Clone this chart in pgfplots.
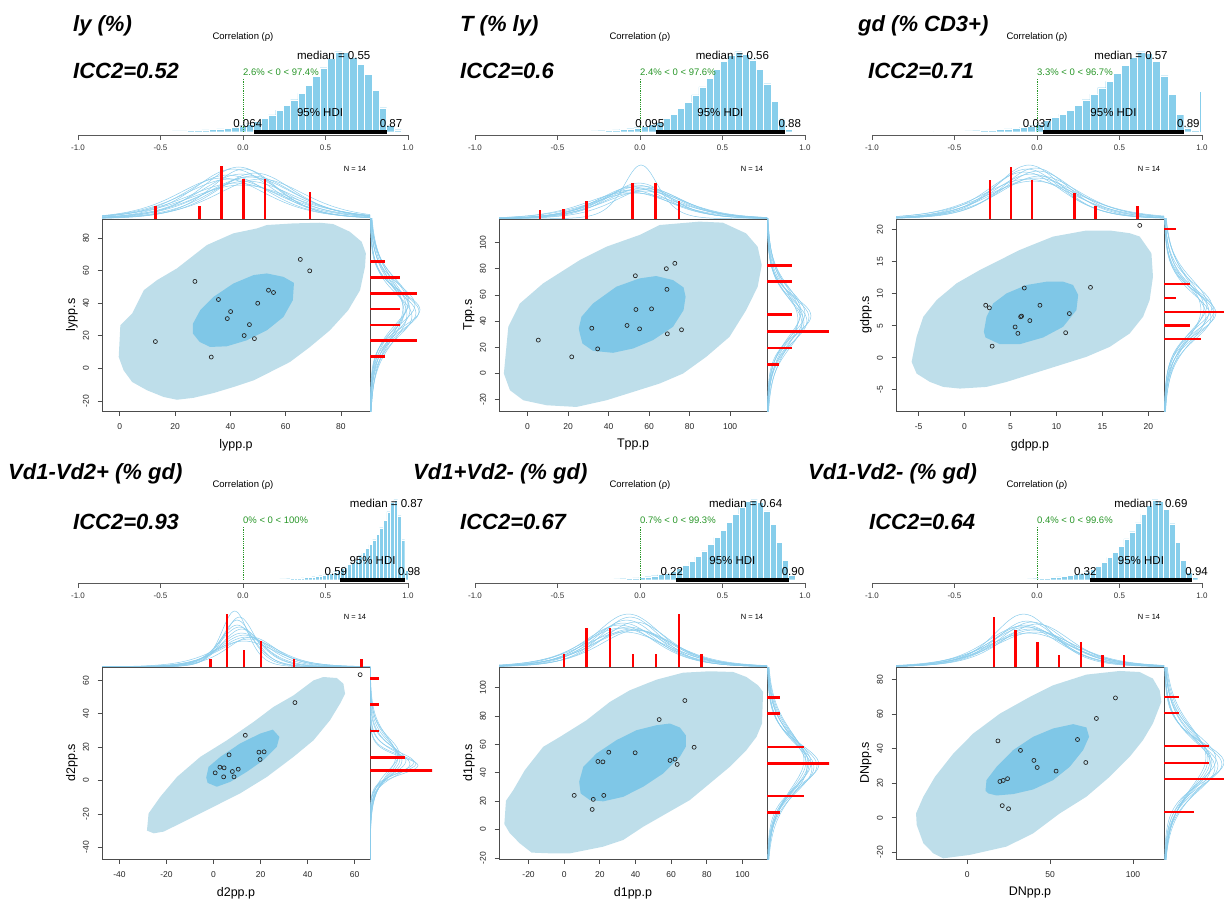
\documentclass[border=0pt]{standalone}
\usepackage{fontspec}
\setmainfont{Liberation Sans}
\usepackage{pgfplots}
\pgfplotsset{compat=1.18}
\usepackage{pgfplotstable}

\definecolor{sky}{RGB}{135,206,235}
\definecolor{curvec}{RGB}{140,205,236}
\definecolor{hdiout}{RGB}{190,222,234}
\definecolor{hdiin}{RGB}{127,199,231}
\definecolor{grn}{RGB}{40,150,40}

\newcommand{\fs}[1]{\fontsize{#1pt}{#1pt}\selectfont}

% normalised t(5) density shape used for the posterior predictive curves
\pgfplotstableread{
u f
-12 0.00004
-9 0.0002
-7 0.0008
-6 0.0018
-5 0.0046
-4.5 0.0078
-4 0.0135
-3.5 0.0244
-3.25 0.0332
-3 0.0456
-2.75 0.0631
-2.5 0.0878
-2.25 0.1227
-2 0.1715
-1.75 0.2385
-1.5 0.3280
-1.25 0.4423
-1 0.5787
-0.75 0.7263
-0.5 0.8638
-0.25 0.9634
0 1
0.25 0.9634
0.5 0.8638
0.75 0.7263
1 0.5787
1.25 0.4423
1.5 0.3280
1.75 0.2385
2 0.1715
2.25 0.1227
2.5 0.0878
2.75 0.0631
3 0.0456
3.25 0.0332
3.5 0.0244
4 0.0135
4.5 0.0078
5 0.0046
6 0.0018
7 0.0008
9 0.0002
12 0.00004
}\tshape

\pgfplotsset{
 /pgf/number format/assume math mode=true,
 histax/.style={scale only axis, width=330pt, height=132pt, anchor=south west, xmin=-1, xmax=1, ymin=-0.3, ymax=1.35, hide axis, clip=false},
 topax/.style={scale only axis, width=268pt, height=69pt, anchor=south west, ymin=0, ymax=69, hide axis, clip=true},
 rightax/.style={scale only axis, width=62pt, height=192pt, anchor=south west, xmin=0, xmax=62, hide axis, clip=true},
 scatax/.style={scale only axis, width=268pt, height=192pt, anchor=south west, axis on top,
   axis line style={black!70, line width=0.9pt}, tick align=outside, xtick pos=left, ytick pos=left,
   major tick length=4.5pt, tick style={black!70, line width=0.8pt},
   ticklabel style={font=\fs{8.5}, text=black!85},
   yticklabel style={rotate=90, anchor=south},
   xticklabel shift=5pt, yticklabel shift=5pt,
   label style={font=\fs{12.5}},
   xlabel style={at={(axis description cs:0.5,-0.177)}, anchor=center},
   ylabel style={at={(axis description cs:-0.112,0.5)}, anchor=center},
   clip=true},
 mcurve/.style={color=curvec, line width=0.5pt, smooth, no marks},
 histbar/.style={ybar interval, fill=sky, draw=white, line width=0.3pt},
 redv/.style={red, line width=2.6pt, ycomb, no marks},
 redh/.style={red, line width=2.6pt, xcomb, no marks},
 ptsty/.style={only marks, mark=o, mark size=2pt, mark options={black!85, line width=0.7pt}},
 hdiO/.style={fill=hdiout, draw=none, no marks},
 hdiI/.style={fill=hdiin, draw=none, no marks},
}

\newcommand{\tc}[3]{\addplot[mcurve] table[x expr=\thisrow{u}*#2+#1, y expr=\thisrow{f}*#3]{\tshape};}
\newcommand{\rc}[3]{\addplot[mcurve] table[y expr=\thisrow{u}*#2+#1, x expr=\thisrow{f}*#3]{\tshape};}

% #1 median, #2 green text, #3 HDI low, #4 HDI high, #5 low label shift, #6 HDI middle
\newcommand{\histdeco}[6]{%
 \draw[grn, densely dotted, line width=0.8pt] (axis cs:0,0) -- (axis cs:0,0.67);
 \draw[black, line width=3.6pt] (axis cs:#3,0) -- (axis cs:#4,0);
 \draw[black!65, line width=0.8pt] (axis cs:-1,-0.041) -- (axis cs:1,-0.041)
   (axis cs:-1,-0.041) -- (axis cs:-1,-0.104)
   (axis cs:-0.5,-0.041) -- (axis cs:-0.5,-0.104)
   (axis cs:0,-0.041) -- (axis cs:0,-0.104)
   (axis cs:0.5,-0.041) -- (axis cs:0.5,-0.104)
   (axis cs:1,-0.041) -- (axis cs:1,-0.104);
 \node[font=\fs{8}, text=black!80] at (axis cs:-1,-0.204) {-1.0};
 \node[font=\fs{8}, text=black!80] at (axis cs:-0.5,-0.204) {-0.5};
 \node[font=\fs{8}, text=black!80] at (axis cs:0,-0.204) {0.0};
 \node[font=\fs{8}, text=black!80] at (axis cs:0.5,-0.204) {0.5};
 \node[font=\fs{8}, text=black!80] at (axis cs:1,-0.204) {1.0};
 \node[font=\fs{9.5}] at (axis cs:0,1.187) {Correlation (ρ)};
 \node[font=\fs{11.5}] at (axis cs:#1,0.96) {median = #1};
 \node[font=\fs{9.5}, text=grn, anchor=west, inner sep=0pt] at (axis cs:0,0.745) {#2};
 \node[font=\fs{11.5}] at (axis cs:#6,0.234) {95\% HDI};
 \node[font=\fs{11.5}, xshift=#5] at (axis cs:#3,0.096) {#3};
 \node[font=\fs{11.5}, xshift=4.5pt] at (axis cs:#4,0.096) {#4};
}

\begin{document}
\begin{tikzpicture}
\useasboundingbox (0,0) rectangle (1224pt,-902pt);

% ================= titles =================
\node[anchor=base west, inner sep=0pt, font=\fs{22}\bfseries\itshape] at (73pt,-31.7pt) {ly (\%)};
\node[anchor=base west, inner sep=0pt, font=\fs{22}\bfseries\itshape] at (460pt,-31.7pt) {T (\% ly)};
\node[anchor=base west, inner sep=0pt, font=\fs{22}\bfseries\itshape] at (858pt,-31.7pt) {gd (\% CD3+)};
\node[anchor=base west, inner sep=0pt, font=\fs{22}\bfseries\itshape] at (8pt,-479pt) {Vd1-Vd2+ (\% gd)};
\node[anchor=base west, inner sep=0pt, font=\fs{22}\bfseries\itshape] at (413pt,-479pt) {Vd1+Vd2- (\% gd)};
\node[anchor=base west, inner sep=0pt, font=\fs{22}\bfseries\itshape] at (808pt,-479pt) {Vd1-Vd2- (\% gd)};
\node[anchor=base west, inner sep=0pt, font=\fs{22}\bfseries\itshape] at (73pt,-78pt) {ICC2=0.52};
\node[anchor=base west, inner sep=0pt, font=\fs{22}\bfseries\itshape] at (460pt,-78pt) {ICC2=0.6};
\node[anchor=base west, inner sep=0pt, font=\fs{22}\bfseries\itshape] at (868pt,-78pt) {ICC2=0.71};
\node[anchor=base west, inner sep=0pt, font=\fs{22}\bfseries\itshape] at (73pt,-529pt) {ICC2=0.93};
\node[anchor=base west, inner sep=0pt, font=\fs{22}\bfseries\itshape] at (460pt,-529pt) {ICC2=0.67};
\node[anchor=base west, inner sep=0pt, font=\fs{22}\bfseries\itshape] at (869pt,-529pt) {ICC2=0.64};
\foreach \nx/\ny in {355/169,752/169,1149/169,355/617,752/617,1149/617}
  \node[font=\fs{7.5}] at (\nx pt,-\ny pt) {N = 14};

% ================= PANEL 1 =================
\begin{axis}[histax, at={(78pt,-155.7pt)}]
\addplot[histbar] coordinates {(-0.563,0.003) (-0.518,0.005) (-0.473,0.007) (-0.428,0.009) (-0.384,0.011) (-0.339,0.014) (-0.294,0.018) (-0.249,0.022) (-0.205,0.028) (-0.160,0.036) (-0.115,0.045) (-0.070,0.058) (-0.026,0.075) (0.019,0.10) (0.064,0.13) (0.109,0.17) (0.154,0.21) (0.198,0.27) (0.243,0.33) (0.288,0.40) (0.333,0.48) (0.377,0.58) (0.422,0.69) (0.467,0.80) (0.512,0.92) (0.557,1.00) (0.601,0.99) (0.646,0.93) (0.691,0.84) (0.736,0.72) (0.781,0.52) (0.825,0.30) (0.870,0.08) (0.915,0.025) (0.960,0)};
\histdeco{0.55}{2.6\% < 0 < 97.4\%}{0.064}{0.87}{-5.8pt}{0.467}
\end{axis}
\begin{axis}[topax, at={(102pt,-219pt)}, xmin=-6.4, xmax=90.5]
\tc{44}{16}{45}\tc{41}{15}{50}\tc{47}{17}{42}\tc{43}{14}{52}\tc{46}{18}{38}\tc{39}{16}{44}\tc{49}{15}{46}\tc{42}{19}{36}\tc{45}{13}{50}\tc{40}{18}{40}\tc{48}{16}{43}\tc{44}{20}{34}\tc{37}{17}{41}\tc{51}{17}{40}
\addplot[redv] coordinates {(12.9,13.3) (28.8,13.3) (36.8,53.2) (44.7,40) (52.6,40) (68.8,26.6)};
\end{axis}
\begin{axis}[scatax, at={(102pt,-411pt)}, xmin=-6.4, xmax=90.5, ymin=-26.1, ymax=91.7, xtick={0,20,40,60,80}, ytick={-20,0,20,40,60,80}, xlabel={lypp.p}, ylabel={lypp.s}]
\addplot[hdiO] coordinates {(0.24,26.5) (-0.36,7.1) (1.4,-1.1) (4.5,-8.3) (9.9,-13.4) (15.9,-17.5) (20.7,-19.2) (26.7,-18.0) (33.9,-15.1) (41.1,-11.4) (48.4,-7.3) (54.4,-2.2) (61.6,4.0) (68.8,13.2) (76.0,23.4) (82.6,35.7) (86.9,48.0) (88.7,62.4) (89.0,70.6) (87.5,77.7) (83.2,83.9) (77.2,88.6) (72.4,89.4) (62.8,89.0) (53.2,88.0) (49.6,85.9) (41.1,82.9) (31.5,75.7) (20.7,61.4) (13.5,54.2) (8.7,48.0) (6.3,39.8) (4.5,33.7)} -- cycle;
\addplot[hdiI] coordinates {(26.5,21.4) (26.5,27.5) (29.1,35.7) (33.9,43.9) (41.1,52.1) (48.4,57.3) (53.2,58.3) (59.2,56.2) (63.0,52.5) (62.6,41.9) (59.2,31.6) (53.2,23.4) (46.0,17.3) (38.7,13.6) (32.7,13.2) (28.9,16.3)} -- cycle;
\addplot[ptsty] coordinates {(65.3,66.9) (68.7,59.9) (27.2,53.4) (53.8,48.0) (55.6,46.6) (35.7,42.3) (49.9,40.0) (40.1,34.9) (38.9,30.6) (46.9,26.9) (45.0,20.2) (48.7,18.3) (12.9,16.5) (33.1,7.0)};
\end{axis}
\begin{axis}[rightax, at={(370pt,-411pt)}, ymin=-26.1, ymax=91.7]
\rc{36}{16}{40}\rc{34}{14}{46}\rc{38}{18}{36}\rc{35}{13}{49}\rc{40}{17}{38}\rc{32}{15}{42}\rc{37}{20}{33}\rc{39}{14}{45}\rc{33}{18}{37}\rc{36}{12}{50}\rc{41}{16}{39}\rc{35}{19}{34}
\addplot[redh] coordinates {(15,65.5) (30,55.8) (46.7,46.0) (30,36.4) (30,26.7) (46.7,17.1) (15,7.3)};
\end{axis}

% ================= PANEL 2 =================
\begin{axis}[histax, at={(475pt,-155.7pt)}]
\addplot[histbar] coordinates {(-0.516,0.003) (-0.472,0.004) (-0.428,0.005) (-0.385,0.006) (-0.341,0.008) (-0.298,0.010) (-0.254,0.013) (-0.210,0.017) (-0.167,0.022) (-0.123,0.030) (-0.080,0.038) (-0.036,0.050) (0.008,0.065) (0.051,0.09) (0.095,0.12) (0.139,0.17) (0.182,0.22) (0.226,0.29) (0.269,0.37) (0.313,0.46) (0.357,0.56) (0.400,0.67) (0.444,0.78) (0.487,0.88) (0.531,0.96) (0.575,1.00) (0.618,0.97) (0.662,0.90) (0.706,0.78) (0.749,0.60) (0.793,0.38) (0.836,0.16) (0.880,0.03) (0.923,0)};
\histdeco{0.56}{2.4\% < 0 < 97.6\%}{0.095}{0.88}{-5.8pt}{0.4875}
\end{axis}
\begin{axis}[topax, at={(499pt,-219pt)}, xmin=-14.1, xmax=118.2]
\tc{55}{20}{30}\tc{52}{18}{32}\tc{58}{21}{28}\tc{54}{17}{34}\tc{50}{22}{27}\tc{57}{19}{31}\tc{53}{23}{26}\tc{60}{18}{30}\tc{56}{20}{33}\tc{51}{19}{29}\tc{56}{9}{54}\tc{55}{16}{36}
\addplot[redv] coordinates {(6.1,9) (17.6,9.7) (29.1,18) (51.7,35.7) (63.2,35.7) (74.7,18)};
\end{axis}
\begin{axis}[scatax, at={(499pt,-411pt)}, xmin=-14.1, xmax=118.2, ymin=-28.7, ymax=118.1, xtick={0,20,40,60,80,100}, ytick={-20,0,20,40,60,80,100}, xlabel={Tpp.p}, ylabel={Tpp.s}]
\addplot[hdiO] coordinates {(-10.3,22.9) (-11.7,-0.1) (-8.7,-12.8) (-2.1,-20.5) (9.4,-24.3) (24.1,-25.6) (38.9,-20.5) (52.1,-14.1) (65.2,-7.7) (76.7,-0.1) (88.2,12.7) (99.7,28.0) (107.9,48.4) (113.6,66.3) (115.6,82.9) (113.6,96.9) (107.9,107.1) (96.4,115.3) (84.9,116.1) (65.2,113.5) (55.3,105.9) (38.9,96.9) (25.8,86.7) (7.7,68.9) (-3.8,53.5) (-9.5,35.7)} -- cycle;
\addplot[hdiI] coordinates {(25.8,30.6) (27.1,22.9) (32.3,17.3) (42.2,15.8) (52.1,19.1) (61.9,25.5) (71.8,35.7) (77.0,48.4) (78.0,58.6) (77.0,65.8) (71.8,71.4) (63.5,74.5) (55.3,72.7) (43.8,66.3) (32.3,53.5) (26.6,43.3) (25.3,34.4)} -- cycle;
\addplot[ptsty] coordinates {(72.7,84.2) (68.5,80.1) (53.2,74.7) (68.8,64.3) (53.5,48.9) (61.2,49.4) (49.1,36.7) (31.7,34.6) (55.3,34.1) (76.0,33.4) (69.0,30.3) (34.6,18.8) (5.3,25.5) (21.8,12.7)};
\end{axis}
\begin{axis}[rightax, at={(767pt,-411pt)}, ymin=-28.7, ymax=118.1]
\rc{42}{20}{36}\rc{40}{18}{40}\rc{45}{22}{33}\rc{43}{17}{42}\rc{38}{21}{35}\rc{46}{19}{38}\rc{41}{24}{31}\rc{44}{16}{44}\rc{39}{19}{37}\rc{47}{21}{34}
\addplot[redh] coordinates {(24.7,82.6) (24.7,70.4) (24.7,44.9) (61.7,32.1) (24.7,19.6) (12.3,6.8)};
\end{axis}

% ================= PANEL 3 =================
\begin{axis}[histax, at={(872pt,-155.7pt)}]
\addplot[histbar] coordinates {(-0.626,0.003) (-0.579,0.004) (-0.531,0.005) (-0.484,0.007) (-0.437,0.009) (-0.389,0.012) (-0.342,0.016) (-0.295,0.021) (-0.247,0.027) (-0.200,0.035) (-0.153,0.045) (-0.105,0.058) (-0.058,0.075) (-0.010,0.10) (0.037,0.14) (0.084,0.18) (0.132,0.22) (0.179,0.27) (0.226,0.33) (0.274,0.40) (0.321,0.47) (0.368,0.55) (0.416,0.63) (0.463,0.73) (0.511,0.83) (0.558,0.93) (0.605,1.00) (0.653,0.98) (0.700,0.88) (0.747,0.70) (0.795,0.47) (0.842,0.22) (0.889,0.05) (0.937,0.015) (0.984,0)};
\addplot[sky, line width=0.7pt] coordinates {(0.99,0) (0.99,0.5)};
\histdeco{0.57}{3.3\% < 0 < 96.7\%}{0.037}{0.89}{-5.8pt}{0.4635}
\end{axis}
\begin{axis}[topax, at={(896pt,-219pt)}, xmin=-7.46, xmax=21.7]
\tc{7.3}{4.5}{45}\tc{6.8}{4.0}{50}\tc{7.8}{5.0}{41}\tc{7.0}{3.8}{54}\tc{8.2}{4.7}{43}\tc{6.5}{4.3}{47}\tc{7.5}{5.5}{38}\tc{8.0}{4.2}{48}\tc{6.9}{5.2}{40}\tc{7.7}{3.9}{51}
\addplot[redv] coordinates {(2.75,39) (5.04,52) (7.32,39) (11.96,26) (14.24,13) (18.8,13)};
\end{axis}
\begin{axis}[scatax, at={(896pt,-411pt)}, xmin=-7.46, xmax=21.7, ymin=-8.35, ymax=21.7, xtick={-5,0,5,10,15,20}, ytick={-5,0,5,10,15,20}, xlabel={gdpp.p}, ylabel={gdpp.s}]
\addplot[hdiO] coordinates {(-5.76,-0.66) (-5.22,-2.49) (-3.77,-3.8) (-2.32,-4.58) (-0.51,-4.84) (2.39,-4.58) (4.57,-3.8) (7.46,-2.49) (10.36,-1.18) (13.26,0.13) (15.8,1.69) (17.97,3.79) (19.42,6.4) (20.14,9.02) (20.5,12.68) (20.33,16.34) (19.06,18.95) (17.97,19.48) (15.8,19.9) (13.26,19.9) (9.64,18.95) (6.01,16.86) (3.84,15.29) (1.67,13.72) (-0.87,11.63) (-3.04,9.02) (-4.49,6.4) (-5.22,3.26)} -- cycle;
\addplot[hdiI] coordinates {(2.1,4.05) (2.28,3.16) (3.84,2.11) (6.01,2.11) (8.55,3.16) (10.72,4.83) (12.17,7.45) (12.36,9.8) (11.81,11.37) (10.72,11.89) (8.91,11.89) (6.74,11.37) (4.57,10.06) (3.12,8.49) (2.39,6.4)} -- cycle;
\addplot[ptsty] coordinates {(19.06,20.7) (13.7,11.0) (6.5,10.9) (2.3,8.2) (2.7,7.8) (8.2,8.2) (11.4,6.9) (6.1,6.4) (6.2,6.5) (7.1,5.8) (5.5,4.8) (5.8,3.8) (11.0,3.9) (3.0,1.8)};
\end{axis}
\begin{axis}[rightax, at={(1164pt,-411pt)}, ymin=-8.35, ymax=21.7]
\rc{7.2}{4.2}{45}\rc{6.8}{3.8}{50}\rc{7.8}{4.8}{40}\rc{7.0}{3.5}{52}\rc{8.3}{4.5}{43}\rc{6.3}{4.0}{47}\rc{7.5}{5.2}{37}\rc{8.0}{3.9}{48}\rc{6.6}{4.6}{42}\rc{7.4}{3.6}{50}
\addplot[redh] coordinates {(12.4,20.16) (25.7,11.53) (12.4,9.33) (62,7.13) (25.7,4.99) (37.3,2.9)};
\end{axis}

% ================= PANEL 4 =================
\begin{axis}[histax, at={(78pt,-603.7pt)}]
\addplot[histbar] coordinates {(-0.147,0.001) (-0.125,0.001) (-0.103,0.0015) (-0.082,0.0015) (-0.060,0.002) (-0.038,0.002) (-0.017,0.0025) (0.005,0.003) (0.027,0.003) (0.048,0.0035) (0.070,0.004) (0.092,0.0045) (0.113,0.005) (0.135,0.0055) (0.157,0.006) (0.178,0.007) (0.200,0.008) (0.222,0.009) (0.243,0.010) (0.265,0.012) (0.287,0.014) (0.308,0.016) (0.330,0.019) (0.352,0.022) (0.373,0.026) (0.395,0.031) (0.417,0.037) (0.438,0.043) (0.460,0.05) (0.482,0.06) (0.503,0.072) (0.525,0.085) (0.547,0.10) (0.568,0.12) (0.590,0.14) (0.612,0.16) (0.633,0.19) (0.655,0.22) (0.677,0.26) (0.698,0.30) (0.720,0.34) (0.742,0.39) (0.763,0.44) (0.785,0.50) (0.807,0.57) (0.828,0.65) (0.850,0.74) (0.872,0.85) (0.893,0.97) (0.915,1.00) (0.937,0.80) (0.958,0.50) (0.980,0.12) (1.0,0)};
\histdeco{0.87}{0\% < 0 < 100\%}{0.59}{0.98}{-4.5pt}{0.785}
\end{axis}
\begin{axis}[topax, at={(102pt,-667pt)}, xmin=-47.4, xmax=66.5]
\tc{12}{10}{34}\tc{10}{8}{42}\tc{14}{12}{30}\tc{11}{7}{50}\tc{13}{11}{32}\tc{9}{6}{56}\tc{15}{13}{28}\tc{12}{9}{38}\tc{10}{7}{47}\tc{16}{11}{30}\tc{13}{14}{26}\tc{11}{9}{40}
\addplot[redv] coordinates {(-1.2,8.3) (5.7,53.3) (13.0,17) (20.1,26) (34.2,8.3) (63.0,8.3)};
\end{axis}
\begin{axis}[scatax, at={(102pt,-859pt)}, xmin=-47.4, xmax=66.5, ymin=-47.0, ymax=68.0, xtick={-40,-20,0,20,40,60}, ytick={-40,-20,0,20,40,60}, xlabel={d2pp.p}, ylabel={d2pp.s}]
\addplot[hdiO] coordinates {(-28.3,-30.0) (-27.6,-19.7) (-22.6,-9.7) (-15.5,2.2) (-5.6,14.2) (5.7,24.1) (17.0,35.1) (25.5,44.1) (34.0,51.0) (42.5,60.0) (46.7,62.0) (52.4,61.4) (55.2,58.0) (55.9,52.0) (53.8,46.1) (49.5,36.1) (42.5,24.1) (34.0,14.2) (22.7,2.2) (11.3,-7.7) (0.0,-15.7) (-11.3,-23.7) (-21.2,-30.6) (-25.4,-31.6)} -- cycle;
\addplot[hdiI] coordinates {(-3.1,1.8) (-2.1,8.2) (2.9,14.2) (11.3,22.2) (19.8,28.1) (25.2,30.5) (28.0,26.1) (26.9,20.2) (21.2,12.2) (14.1,5.2) (7.1,-0.8) (1.4,-3.7) (-2.5,-1.4)} -- cycle;
\addplot[ptsty] coordinates {(62.3,63.4) (34.6,46.7) (13.5,27.1) (6.6,15.4) (19.3,17.0) (21.5,17.2) (19.8,12.6) (2.7,8.0) (4.5,7.6) (0.7,4.6) (8.0,5.4) (10.5,6.8) (4.3,2.2) (8.7,2.2)};
\end{axis}
\begin{axis}[rightax, at={(370pt,-859pt)}, ymin=-47.0, ymax=68.0]
\rc{12}{10}{32}\rc{10}{8}{40}\rc{14}{12}{28}\rc{9}{6}{48}\rc{13}{11}{30}\rc{11}{7}{44}\rc{15}{13}{26}\rc{12}{9}{36}\rc{10}{6}{46}\rc{16}{11}{29}
\addplot[redh] coordinates {(9.3,61.2) (9.3,45.7) (9.3,29.7) (35,13.8) (65,6.0)};
\end{axis}

% ================= PANEL 5 =================
\begin{axis}[histax, at={(475pt,-603.7pt)}]
\addplot[histbar] coordinates {(-0.611,0.001) (-0.573,0.001) (-0.536,0.0015) (-0.498,0.0015) (-0.460,0.002) (-0.422,0.002) (-0.385,0.0025) (-0.347,0.003) (-0.309,0.004) (-0.271,0.005) (-0.234,0.006) (-0.196,0.008) (-0.158,0.010) (-0.120,0.013) (-0.082,0.017) (-0.045,0.022) (-0.007,0.029) (0.031,0.038) (0.069,0.05) (0.107,0.065) (0.144,0.085) (0.182,0.11) (0.220,0.14) (0.258,0.18) (0.296,0.23) (0.333,0.29) (0.371,0.36) (0.409,0.44) (0.447,0.53) (0.485,0.62) (0.522,0.72) (0.560,0.82) (0.598,0.91) (0.636,0.98) (0.674,1.00) (0.711,0.97) (0.749,0.86) (0.787,0.69) (0.825,0.47) (0.863,0.24) (0.900,0.06) (0.938,0)};
\histdeco{0.64}{0.7\% < 0 < 99.3\%}{0.22}{0.90}{-4.5pt}{0.56}
\end{axis}
\begin{axis}[topax, at={(499pt,-667pt)}, xmin=-36.6, xmax=113.8]
\tc{36}{22}{40}\tc{33}{20}{44}\tc{39}{24}{37}\tc{35}{19}{47}\tc{38}{23}{38}\tc{31}{21}{42}\tc{40}{20}{45}\tc{34}{25}{35}\tc{37}{18}{50}\tc{32}{23}{39}\tc{36}{20}{53}\tc{41}{22}{37}
\addplot[redv] coordinates {(-0.2,12.7) (12.5,38.7) (25.6,38.7) (38.5,12.7) (51.4,12.7) (64.3,52.7) (77.2,12.7)};
\end{axis}
\begin{axis}[scatax, at={(499pt,-859pt)}, xmin=-36.6, xmax=113.8, ymin=-20.7, ymax=114.5, xtick={-20,0,20,40,60,80,100}, ytick={-20,0,20,40,60,80,100}, xlabel={d1pp.p}, ylabel={d1pp.s}]
\addplot[hdiO] coordinates {(-33.6,3.9) (-32.7,20.3) (-28.6,27.8) (-22.1,41.9) (-11.8,58.3) (-2.4,65.3) (12.5,77.0) (25.6,89.9) (36.8,98.1) (51.8,105.6) (66.7,110.5) (81.7,111.5) (94.8,111.0) (102.2,107.5) (108.8,101.6) (111.6,97.0) (111.0,74.7) (107.9,65.3) (102.2,55.9) (92.9,44.2) (81.7,32.5) (70.5,20.8) (57.4,11.4) (44.3,2.0) (33.1,-7.3) (21.9,-12.0) (3.2,-16.7) (-8.0,-16.7) (-18.3,-16.2) (-24.9,-9.7) (-30.5,-2.6)} -- cycle;
\addplot[hdiI] coordinates {(8.4,33.7) (9.2,25.5) (14.4,20.8) (21.9,19.9) (33.1,23.1) (44.3,30.2) (55.5,39.5) (64.9,51.3) (68.2,58.3) (68.2,66.5) (64.9,71.9) (59.3,74.7) (51.8,73.5) (40.6,70.0) (29.3,63.0) (18.1,53.6) (10.7,44.2)} -- cycle;
\addplot[ptsty] coordinates {(67.7,90.9) (53.3,77.5) (72.9,58.0) (25.0,54.5) (39.8,54.1) (18.9,48.0) (21.7,47.7) (59.4,48.7) (62.2,49.6) (63.4,45.9) (5.6,24.1) (16.3,21.3) (22.2,24.1) (15.7,14.2)};
\end{axis}
\begin{axis}[rightax, at={(767pt,-859pt)}, ymin=-20.7, ymax=114.5]
\rc{46}{20}{42}\rc{44}{18}{47}\rc{48}{22}{39}\rc{45}{17}{50}\rc{47}{21}{41}\rc{43}{19}{45}\rc{49}{23}{37}\rc{46}{16}{52}\rc{44}{22}{40}\rc{47}{19}{44}
\addplot[redh] coordinates {(12.7,93.2) (12.7,81.7) (37,58.3) (63.3,46.6) (37,23.6) (12.7,11.9)};
\end{axis}

% ================= PANEL 6 =================
\begin{axis}[histax, at={(872pt,-603.7pt)}]
\addplot[histbar] coordinates {(-0.334,0.0015) (-0.299,0.002) (-0.265,0.0025) (-0.230,0.003) (-0.196,0.004) (-0.162,0.005) (-0.127,0.006) (-0.093,0.008) (-0.058,0.010) (-0.024,0.013) (0.010,0.017) (0.045,0.021) (0.079,0.027) (0.114,0.034) (0.148,0.042) (0.182,0.052) (0.217,0.065) (0.251,0.08) (0.286,0.10) (0.320,0.13) (0.354,0.17) (0.389,0.22) (0.423,0.28) (0.458,0.34) (0.492,0.42) (0.526,0.51) (0.561,0.60) (0.595,0.71) (0.630,0.82) (0.664,0.93) (0.698,1.00) (0.733,0.98) (0.767,0.88) (0.802,0.70) (0.836,0.47) (0.870,0.24) (0.905,0.09) (0.939,0.03) (0.974,0)};
\histdeco{0.69}{0.4\% < 0 < 99.6\%}{0.32}{0.94}{-4.5pt}{0.63}
\end{axis}
\begin{axis}[topax, at={(896pt,-667pt)}, xmin=-43.0, xmax=118.7]
\tc{38}{24}{38}\tc{35}{22}{42}\tc{41}{26}{35}\tc{36}{20}{46}\tc{40}{25}{37}\tc{33}{23}{41}\tc{42}{22}{43}\tc{37}{27}{34}\tc{34}{19}{53}\tc{39}{21}{45}\tc{36}{24}{40}
\addplot[redv] coordinates {(16.1,50) (29.1,37.3) (42.4,24.7) (55.4,12.3) (68.5,24.7) (81.5,12.3) (94.6,12.3)};
\end{axis}
\begin{axis}[scatax, at={(896pt,-859pt)}, xmin=-43.0, xmax=118.7, ymin=-23.9, ymax=87.3, xtick={0,50,100}, ytick={-20,0,20,40,60,80}, xlabel={DNpp.p}, ylabel={DNpp.s}]
\addplot[hdiO] coordinates {(-30.5,-4.2) (-30.9,2.5) (-26.5,12.2) (-19.5,23.7) (-8.4,37.2) (3.6,48.8) (19.7,60.3) (37.8,70.0) (51.8,76.7) (71.9,82.9) (92.0,85.0) (104.0,84.4) (112.0,80.6) (116.1,73.8) (117.1,67.1) (112.0,54.6) (106.0,44.9) (98.0,35.3) (85.9,23.7) (71.9,12.2) (55.8,2.5) (39.8,-9.0) (23.7,-16.7) (1.6,-21.5) (-14.5,-23.5) (-20.5,-20.6) (-26.5,-14.8)} -- cycle;
\addplot[hdiI] coordinates {(11.0,15.6) (11.6,21.8) (17.7,29.5) (27.7,39.2) (39.8,46.9) (51.8,51.7) (63.9,54.2) (71.9,52.3) (73.5,46.9) (69.9,39.2) (61.8,29.5) (51.8,21.8) (39.8,16.4) (27.7,13.7) (17.7,12.9) (12.7,14.1)} -- cycle;
\addplot[ptsty] coordinates {(89.4,69.4) (77.9,57.5) (18.5,44.5) (66.5,45.3) (32.1,39.0) (40.2,33.2) (71.5,32.0) (42.2,29.1) (53.6,27.0) (24.3,22.6) (21.7,21.6) (19.7,21.0) (21.1,7.0) (24.9,5.2)};
\end{axis}
\begin{axis}[rightax, at={(1164pt,-859pt)}, ymin=-23.9, ymax=87.3]
\rc{32}{17}{48}\rc{30}{15}{54}\rc{34}{19}{44}\rc{31}{14}{58}\rc{33}{18}{46}\rc{29}{16}{51}\rc{35}{20}{42}\rc{32}{13}{60}\rc{30}{18}{47}\rc{34}{16}{52}
\addplot[redh] coordinates {(15,70.0) (15,60.7) (45,41.5) (45,31.8) (60,22.4) (30,3.3)};
\end{axis}

\end{tikzpicture}
\end{document}
